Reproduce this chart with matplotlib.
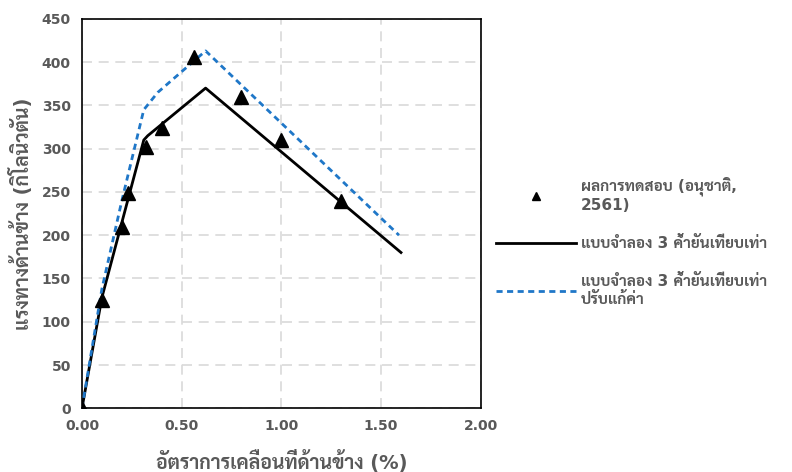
import matplotlib
matplotlib.use('Agg')
import matplotlib.pyplot as plt
from matplotlib import font_manager

fonts = font_manager.fontManager.ttflist
bold_names = set(f.name for f in fonts if f.weight in (700, 'bold'))
all_names = set(f.name for f in fonts)
prefs = ['Sarabun', 'Noto Sans Thai Looped', 'Noto Sans Thai', 'Anuphan', 'Bai Jamjuree']
thai_font = next((n for n in prefs if n in bold_names),
                 next((n for n in prefs if n in all_names), 'DejaVu Sans'))
plt.rcParams['font.family'] = ['DejaVu Sans', thai_font]

# test results
test_x = [0.0, 0.10, 0.20, 0.23, 0.32, 0.40, 0.56, 0.80, 1.00, 1.30]
test_y = [0, 125, 209, 249, 302, 324, 406, 360, 310, 239]

# 3-strut model
model_x = [0.0, 0.10, 0.31, 0.33, 0.62, 1.60]
model_y = [0, 128, 310, 315, 370, 180]

# 3-strut model, adjusted
adj_x = [0.0, 0.10, 0.20, 0.31, 0.38, 0.62, 1.59]
adj_y = [0, 138, 240, 345, 365, 413, 200]

labels = ['ผลการทดสอบ (อนุชาติ,\n2561)',
          'แบบจำลอง 3 ค้ำยันเทียบเท่า',
          'แบบจำลอง 3 ค้ำยันเทียบเท่า\nปรับแก้ค่า']

gray = '#595959'

fig = plt.figure(figsize=(7.92, 4.72), dpi=100)
ax = fig.add_axes([0.1035, 0.135, 0.5035, 0.825])

ax.plot(test_x, test_y, '^', color='black', markersize=9.5, label=labels[0], zorder=4)
ax.plot(model_x, model_y, '-', color='black', linewidth=2, label=labels[1], zorder=3)
ax.plot(adj_x, adj_y, '--', color='#1f77c8', linewidth=2, dashes=(2.2, 1.6), label=labels[2], zorder=3)

ax.set_xlim(0, 2)
ax.set_ylim(0, 450)
ax.set_xticks([0, 0.5, 1.0, 1.5, 2.0])
ax.set_xticklabels(['0.00', '0.50', '1.00', '1.50', '2.00'])
ax.set_yticks(range(0, 451, 50))
ax.tick_params(length=0, pad=8, labelsize=10, labelcolor=gray)
for lab in ax.get_xticklabels() + ax.get_yticklabels():
    lab.set_fontweight('bold')
ax.grid(True, color='#d9d9d9', linestyle=(0, (6, 4)), linewidth=1.2)
ax.set_axisbelow(True)
for s in ax.spines.values():
    s.set_color('black')
    s.set_linewidth(1.2)

ax.set_xlabel('อัตราการเคลื่อนที่ด้านข้าง (%)', fontsize=14, fontweight='bold', color=gray, labelpad=12)
ax.set_ylabel('แรงทางด้านข้าง (กิโลนิวตัน)', fontsize=14, fontweight='bold', color=gray, labelpad=6)

leg = fig.legend(loc='upper left', bbox_to_anchor=(0.609, 0.655), frameon=False,
                 handlelength=5.2, labelspacing=1.5, handletextpad=0.33, markerscale=0.6,
                 labelcolor=gray, prop={'weight': 'bold', 'size': 11})

fig.savefig('out.png', dpi=100)
